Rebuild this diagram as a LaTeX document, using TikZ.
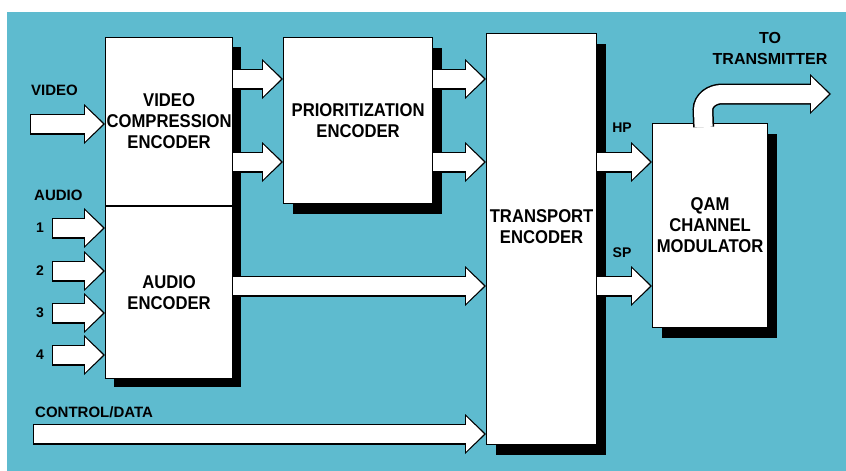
\documentclass[tikz,border=0pt]{standalone}
\usepackage{fontspec}
\setmainfont{Liberation Sans}
\newfontfamily\boxfont[FakeStretch=0.9]{Liberation Sans}
\usepackage{tikz}
\usetikzlibrary{arrows.meta, positioning, shadows}
\definecolor{panelblue}{RGB}{94,187,207}
\tikzstyle{flatblock} = [draw=black, line width=1.2pt, fill=white, anchor=north west, inner xsep=0pt, align=center, font=\boxfont\bfseries\fontsize{18.5}{21}\selectfont]
\tikzstyle{block} = [flatblock, drop shadow={shadow xshift=9pt, shadow yshift=-10pt, fill=black, opacity=1}]
\tikzstyle{fat} = [draw=white, line width=18pt, shorten >=2pt, -{Triangle[width=35pt,length=18pt,line width=0pt]}, preaction={draw=black, line width=21pt, shorten <=0pt, shorten >=0pt, -{Triangle[width=40pt,length=21pt,line width=0pt]}}]
\tikzstyle{fatin} = [fat, shorten <=1.3pt]

\begin{document}
\begin{tikzpicture}[
    x=1pt, y=-1pt,
    lbl/.style={inner sep=0pt, font=\bfseries\fontsize{15}{18}\selectfont},
    small/.style={inner sep=0pt, font=\bfseries\fontsize{14}{16}\selectfont}
]

% Panel
\fill[white] (0,0) rectangle (846,471);
\fill[panelblue] (7,12) rectangle (846,471);
\useasboundingbox (0,0) rectangle (846,471);

% Blocks (video and audio share one shadow)
\fill[black] (114,47) rectangle (241,387);
\node[flatblock, minimum width=127pt, minimum height=168pt] (video) at (105,37) {VIDEO\\COMPRESSION\\ENCODER};
\node[flatblock, minimum width=127pt, minimum height=172pt, below=0pt of video] (audio) {AUDIO\\ENCODER};
\node[block, minimum width=149pt, minimum height=166pt] (prior) at (283,37) {PRIORITIZATION\\ENCODER};
\node[block, minimum width=110pt, minimum height=411pt, text depth=25pt] (transport) at (486,33) {TRANSPORT\\ENCODER};
\node[block, minimum width=115pt, minimum height=204pt] (qam) at (652,123) {QAM\\CHANNEL\\MODULATOR};

% Rows and free ends
\coordinate (rowA) at (0,79);
\coordinate (rowB) at (0,162);
\coordinate (rowC) at (0,286);
\coordinate (videoin) at (30,124);
\coordinate (ctrlin) at (33,434);
\coordinate (qamout) at ([xshift=-6.5pt,yshift=-4pt]qam.north);
\coordinate (tx) at (831,94);

% Labels
\node[lbl, anchor=west] (videolbl) at (31,90) {VIDEO};
\node[lbl, anchor=west] (audiolbl) at (34,195) {AUDIO};
\node[lbl, anchor=west] (ctrllbl) at (35,412) {CONTROL/DATA};
\node[small] (hplbl) at (622,128) {HP};
\node[small] (splbl) at (622,253) {SP};
\node[lbl, align=center, font=\bfseries\fontsize{16}{21}\selectfont] (txlbl) at (770,48) {TO\\TRANSMITTER};

% Arrows
\draw[fatin] (videoin) -- (videoin -| video.west);
\foreach \n/\y in {1/228, 2/271, 3/313, 4/355} {
    \coordinate (ain\n) at (52,\y);
    \node[small] (num\n) at (40,\y) {\n};
    \draw[fatin] (ain\n) -- (ain\n -| audio.west);
}
\draw[fat] (video.east |- rowA) -- (prior.west |- rowA);
\draw[fat] (video.east |- rowB) -- (prior.west |- rowB);
\draw[fat] (prior.east |- rowA) -- (transport.west |- rowA);
\draw[fat] (prior.east |- rowB) -- (transport.west |- rowB);
\draw[fat] (audio.east |- rowC) -- (transport.west |- rowC);
\draw[fatin] (ctrlin) -- (ctrlin -| transport.west);
\draw[fat] (transport.east |- rowB) -- (qam.west |- rowB);
\draw[fat] (transport.east |- rowC) -- (qam.west |- rowC);
\draw[fat] (qamout) -- (703,110) to[out=90,in=180] (722,94) -- (tx);

\end{tikzpicture}
\end{document}
